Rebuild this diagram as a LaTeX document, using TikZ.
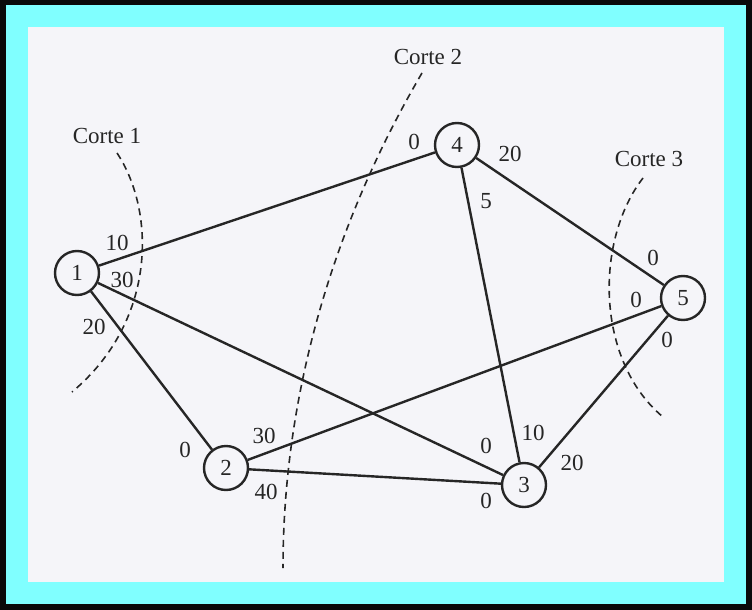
\documentclass[tikz,border=0pt]{standalone}
\usepackage{fontspec}
\setmainfont{Liberation Serif}
\definecolor{frameblack}{HTML}{0A0A0A}
\definecolor{framecyan}{HTML}{80FFFF}
\definecolor{paper}{HTML}{F5F5F9}
\definecolor{ink}{HTML}{262626}
\begin{document}
\begin{tikzpicture}[x=1pt,y=-1pt,
  vert/.style={circle,draw=ink,line width=2.4pt,fill=paper,minimum size=44pt,inner sep=0pt,font=\fontsize{23}{23}\selectfont,text=ink},
  edge/.style={draw=ink,line width=2.4pt},
  lbl/.style={font=\fontsize{23}{23}\selectfont,text=ink,inner sep=0pt},
  cutline/.style={draw=ink,line width=1.6pt,dash pattern=on 7pt off 5pt}]
\useasboundingbox (0,0) rectangle (752,610);
\fill[frameblack] (0,0) rectangle (752,610);
\fill[framecyan] (6,5) rectangle (746,604);
\fill[paper] (28,27) rectangle (724,582);
% cuts
\draw[cutline] (117,153) .. controls (155,210) and (158,320) .. (72,392);
\draw[cutline] (422,73) .. controls (330,230) and (283,400) .. (283,568);
\draw[cutline] (643,178) .. controls (595,240) and (595,360) .. (663,417);
% vertices
\node[vert] (n1) at (77,273) {1};
\node[vert] (n2) at (226,468) {2};
\node[vert] (n3) at (524,485) {3};
\node[vert] (n4) at (457,145) {4};
\node[vert] (n5) at (683,298) {5};
% edges
\draw[edge] (n1) -- (n4);
\draw[edge] (n1) -- (n3);
\draw[edge] (n1) -- (n2);
\draw[edge] (n2) -- (n3);
\draw[edge] (n2) -- (n5);
\draw[edge] (n4) -- (n3);
\draw[edge] (n4) -- (n5);
\draw[edge] (n5) -- (n3);
% cut captions
\node[lbl] (c1) at (107,136) {Corte 1};
\node[lbl] (c2) at (428,57) {Corte 2};
\node[lbl] (c3) at (649,159) {Corte 3};
% capacity labels
\node[lbl] (l1a) at (117,243) {10};
\node[lbl] (l1b) at (122,280) {30};
\node[lbl] (l1c) at (94,327) {20};
\node[lbl] (l4a) at (414,142) {0};
\node[lbl] (l4b) at (510,154) {20};
\node[lbl] (l4c) at (486,201) {5};
\node[lbl] (l5a) at (653,258) {0};
\node[lbl] (l5b) at (636,300) {0};
\node[lbl] (l5c) at (667,340) {0};
\node[lbl] (l2a) at (264,436) {30};
\node[lbl] (l2b) at (266,492) {40};
\node[lbl] (l2c) at (185,450) {0};
\node[lbl] (l3a) at (486,446) {0};
\node[lbl] (l3b) at (533,433) {10};
\node[lbl] (l3c) at (572,463) {20};
\node[lbl] (l3d) at (486,501) {0};
\end{tikzpicture}
\end{document}
